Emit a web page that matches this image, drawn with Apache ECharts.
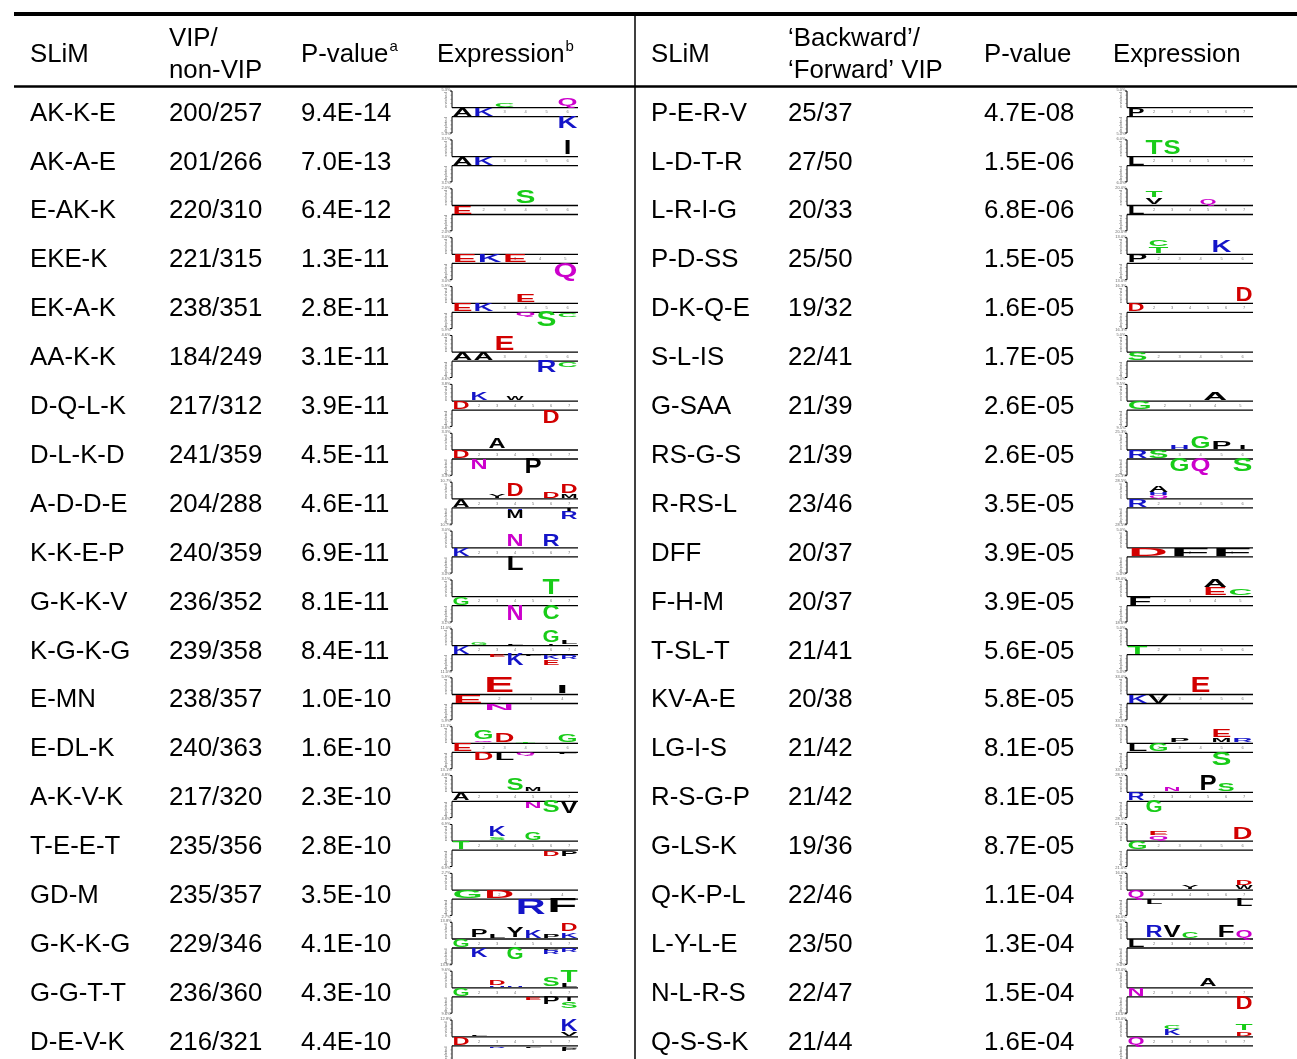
<!DOCTYPE html>
<html><head><meta charset="utf-8">
<script src="https://cdn.jsdelivr.net/npm/echarts@6/dist/echarts.min.js"></script>
<style>html,body{margin:0;padding:0;background:#fff}#c{width:1297px;height:1059px}</style>
</head><body><div id="c"></div>
<script>
// ---------- DATA ----------
const slimL = ['AK-K-E','AK-A-E','E-AK-K','EKE-K','EK-A-K','AA-K-K','D-Q-L-K','D-L-K-D','A-D-D-E','K-K-E-P','G-K-K-V','K-G-K-G','E-MN','E-DL-K','A-K-V-K','T-E-E-T','GD-M','G-K-K-G','G-G-T-T','D-E-V-K'];
const vipL = ['200/257','201/266','220/310','221/315','238/351','184/249','217/312','241/359','204/288','240/359','236/352','239/358','238/357','240/363','217/320','235/356','235/357','229/346','236/360','216/321'];
const pvalL = ['9.4E-14','7.0E-13','6.4E-12','1.3E-11','2.8E-11','3.1E-11','3.9E-11','4.5E-11','4.6E-11','6.9E-11','8.1E-11','8.4E-11','1.0E-10','1.6E-10','2.3E-10','2.8E-10','3.5E-10','4.1E-10','4.3E-10','4.4E-10'];
const slimR = ['P-E-R-V','L-D-T-R','L-R-I-G','P-D-SS','D-K-Q-E','S-L-IS','G-SAA','RS-G-S','R-RS-L','DFF','F-H-M','T-SL-T','KV-A-E','LG-I-S','R-S-G-P','G-LS-K','Q-K-P-L','L-Y-L-E','N-L-R-S','Q-S-S-K'];
const vipR = ['25/37','27/50','20/33','25/50','19/32','22/41','21/39','21/39','23/46','20/37','20/37','21/41','20/38','21/42','21/42','19/36','22/46','23/50','22/47','21/44'];
const pvalR = ['4.7E-08','1.5E-06','6.8E-06','1.5E-05','1.6E-05','1.7E-05','2.6E-05','2.6E-05','3.5E-05','3.9E-05','3.9E-05','5.6E-05','5.8E-05','8.1E-05','8.1E-05','8.7E-05','1.1E-04','1.3E-04','1.5E-04','1.6E-04'];
// number of logo positions
const nPosL = [6,6,6,5,6,6,7,7,7,7,7,7,4,6,7,7,4,7,7,7];
const nPosR = [7,7,7,6,7,6,5,6,6,3,5,6,6,6,7,6,7,7,7,7];
// logo letters: side(u=enriched/d=depleted) position letter height ; listed from the axis line outward
const logoL = ['u3C4 u6Q9 d6K13','u6I15','u4S14','d5Q15','u4E9 d4Q4 d5S16 d6C5','u3E15 d5R12 d6C6','u2K8 u4W5 d6D14','u3A11 d2N11 d5P16',
  'u3Y4 u4G1 u4D14 u6D7 u7M4 u7D10 d4H2 d4M9 d7I4 d7R8','u4N12 u6R12 d4L15','u6T16 d4N16 d6C15',
  'u2G3 u4L2 u6I2 u6G12 u7L5 d3E3 d4K12 d5L2 d6K5 d6E6 d7R5','u2E17 u4I9 d2N7',
  'u2L1 u2Q2 u2G10 u3D10 u4T2 u6G8 d2D9 d3L9 d4Q3 d6L2','u4S13 u5M5 d5N7 d6S12 d7V13','u3S3 u3K11 u5G9 d6D6 d7P6',
  'd3R17 d4F15','u2P9 u3L4 u4Y11 u5K8 u6P4 u7K6 u7D9 d2K10 d4G12 d6P2 d6R5 d7R5',
  'u3H2 u3D6 u4H2 u6S10 u7L4 u7T12 d5E3 d6P8 d7I5 d7S7','u2L2 u7V4 u7K12 d3R2 d5L2 d7L2 d7P3'];
const logoR = ['','u2T15 u3S15','u2V7 u2T7 u5Q6','u2T7 u2C7 u5K12','u7D15','','u4A8',
  'u3H4 u4G13 u5P8 u6I5 d3G14 d4Q14 d6S14','u2Q3 u2H3 u2A7','','u4E8 u4A8 u5C7','','u4E17',
  'u3P4 u5M5 u5E9 u6R4 d5S14','u3N4 u5P16 u6S9 d2G12','u2Q5 u2E5 u6D13','u4Y5 u7W4 u7D6 d2L6 d7L8',
  'u2R13 u3V12 u4C7 u6F12 u7Q8','u5A9 d7D14','u3K7 u3C4 u7D5 u7T7'];
const pctL = ['5.3%','3.1%','2.0%','3.0%','5.9%','4.6%','3.8%','3.3%','10.7%','3.0%','3.1%','11.0%','5.9%','13.1%','4.8%','6.9%','2.7%','13.8%','9.6%','12.8%'];
const pctR = ['5.0%','6.0%','20.0%','13.0%','16.3%','5.0%','9.5%','25.3%','28.5%','5.0%','18.0%','5.0%','33.0%','33.3%','28.5%','21.0%','16.0%','9.0%','13.0%','13.0%'];

// ---------- STYLE / LAYOUT ----------
const FONT = '"Liberation Sans", Arial, Helvetica, sans-serif';
const TXT = 25.8;
const TXT_DY = 1.5;
const COLX_L = [30, 169, 301];
const COLX_R = [651, 788, 984];
const LOGO_X = [[452, 578], [1127, 1253]];
const UP = -4.3, DN = 4.7, BR = 21;
const ROW_H = 48.9, GRID_TOP = 87.55;
const COLORS = {G:'#18cc18',S:'#18cc18',T:'#18cc18',C:'#18cc18',
  N:'#cc00cc',Q:'#cc00cc',K:'#1414c8',R:'#1414c8',H:'#1414c8',D:'#d20000',E:'#d20000'};
const colorOf = ch => COLORS[ch] || '#000';

const mctx = document.createElement('canvas').getContext('2d');
function tw(s, f){ mctx.font = f; return mctx.measureText(s).width; }
const GF = 'bold 100px ' + FONT;

function parseLogo(s){
  const out = [];
  const re = /([ud])(\d)([A-Z])([\d.]+)/g; let m;
  while ((m = re.exec(s))) out.push({side:m[1], pos:+m[2], ch:m[3], h:+m[4]});
  return out;
}

function letterEl(ch, cx, yTop, yBot, w){
  const h = yBot - yTop; if (h <= 0.2) return null;
  const gw = tw(ch, GF);
  const target = ch === 'I' ? gw * (0.95 * w / tw('D', GF)) : 0.95 * w;
  return {type:'text', x:cx, y:(yTop+yBot)/2, scaleX: target/gw, scaleY: h/72, silent:true,
    style:{text:ch, font:GF, fill:colorOf(ch), align:'center', verticalAlign:'middle'}};
}
function ln(x1,y1,x2,y2,wd,c){return {type:'line',silent:true,shape:{x1,y1,x2,y2},style:{stroke:c||'#000',lineWidth:wd||1.2}};}

function logoChildren(x0, x1, yc, n, motif, spec, pct){
  const w = (x1 - x0) / n;
  const ch = [];
  ch.push(ln(x0, yc+UP, x1, yc+UP, 1.3));
  ch.push(ln(x0, yc+DN, x1, yc+DN, 1.3));
  ch.push(ln(x0, yc-BR, x0, yc+UP, 1));
  ch.push(ln(x0, yc+DN, x0, yc+BR, 1));
  ch.push(ln(x0-2, yc-BR, x0, yc-BR, 1));
  ch.push(ln(x0-2, yc+BR, x0, yc+BR, 1));
  for (let k = 1; k < 4; k++){
    ch.push(ln(x0-1.5, yc+UP-k*(BR+UP)/4, x0, yc+UP-k*(BR+UP)/4, 0.6, '#555'));
    ch.push(ln(x0-1.5, yc+DN+k*(BR-DN)/4, x0, yc+DN+k*(BR-DN)/4, 0.6, '#555'));
  }
  const sm = {fill:'#666', fontSize:4, fontFamily:FONT, align:'center', verticalAlign:'middle'};
  ch.push({type:'text', x:x0-6, y:yc-BR-1, silent:true, style:Object.assign({text:pct}, sm)});
  ch.push({type:'text', x:x0-6, y:yc+BR+1, silent:true, style:Object.assign({text:pct}, sm)});
  ch.push({type:'text', x:x0-6, y:yc-12, rotation:Math.PI/2, silent:true, style:Object.assign({text:'enriched'}, sm)});
  ch.push({type:'text', x:x0-6, y:yc+13, rotation:Math.PI/2, silent:true, style:Object.assign({text:'depleted'}, sm)});
  for (let p = 2; p <= n; p++){
    ch.push({type:'text', x:x0+(p-0.5)*w, y:yc+0.3, silent:true, style:Object.assign({text:String(p)}, sm, {fill:'#777'})});
  }
  // fixed residues (first segment of the motif) inside the gap
  const fixed = motif.split('-')[0];
  for (let k = 0; k < fixed.length; k++){
    const e = letterEl(fixed[k], x0+(k+0.5)*w, yc+UP+0.5, yc+DN, w); if (e) ch.push(e);
  }
  const stackU = {}, stackD = {};
  parseLogo(spec).forEach(L => {
    const cx = x0 + (L.pos - 0.5) * w;
    if (L.side === 'u'){
      const b = stackU[L.pos] || 0; stackU[L.pos] = b + L.h;
      const e = letterEl(L.ch, cx, yc+UP-b-L.h, yc+UP-b-0.6, w); if (e) ch.push(e);
    } else {
      const b = stackD[L.pos] || 0; stackD[L.pos] = b + L.h;
      const e = letterEl(L.ch, cx, yc+DN+b+0.6, yc+DN+b+L.h, w); if (e) ch.push(e);
    }
  });
  return ch;
}

const rows = slimL.map((_, i) => i);
const logoData = [];
rows.forEach(i => { logoData.push([0, i]); logoData.push([1, i]); });

const chart = echarts.init(document.getElementById('c'), null, {renderer:'canvas'});
const tf = {fontSize:TXT, fontFamily:FONT, fill:'#000', align:'left', verticalAlign:'middle'};
const wPV = tw('P-value', TXT + 'px ' + FONT);
const wEx = tw('Expression', TXT + 'px ' + FONT);
const hdr = (t, x, y) => ({type:'text', x, y, silent:true, style:Object.assign({text:t}, tf)});
const sup = (t, x, y) => ({type:'text', x, y, silent:true, style:Object.assign({text:t}, tf, {fontSize:15})});
const gridH = 1059 - GRID_TOP;

chart.setOption({
  animation:false,
  backgroundColor:'#fff',
  grid:{left:0, right:0, top:GRID_TOP, bottom:0},
  xAxis:{type:'value', min:0, max:1297, show:false},
  yAxis:{type:'value', inverse:true, min:-0.5, max:-0.5 + gridH / ROW_H, show:false},
  graphic:[
    {type:'line', silent:true, shape:{x1:14,y1:14,x2:1297,y2:14}, style:{stroke:'#000', lineWidth:4}},
    {type:'line', silent:true, shape:{x1:14,y1:86.5,x2:1297,y2:86.5}, style:{stroke:'#000', lineWidth:2.5}},
    {type:'line', silent:true, shape:{x1:635,y1:16,x2:635,y2:1059}, style:{stroke:'#000', lineWidth:1.5}},
    hdr('SLiM', 30, 55), hdr('VIP/', 169, 39), hdr('non-VIP', 169, 71),
    hdr('P-value', 301, 55), sup('a', 301 + wPV + 1, 47),
    hdr('Expression', 437, 55), sup('b', 437 + wEx + 1, 47),
    hdr('SLiM', 651, 55), hdr('\u2018Backward\u2019/', 788, 39), hdr('\u2018Forward\u2019 VIP', 788, 71),
    hdr('P-value', 984, 55), hdr('Expression', 1113, 55)
  ],
  series:[
    {type:'custom', name:'table', coordinateSystem:'cartesian2d', data:rows.map(i => [0, i]),
     renderItem:(params, api) => {
       const i = api.value(1);
       const cells = [[COLX_L[0], slimL[i]], [COLX_L[1], vipL[i]], [COLX_L[2], pvalL[i]],
                      [COLX_R[0], slimR[i]], [COLX_R[1], vipR[i]], [COLX_R[2], pvalR[i]]];
       return {type:'group', children: cells.map(c => {
         const p = api.coord([c[0], i]);
         return {type:'text', x:p[0], y:p[1] + TXT_DY, silent:true, style:Object.assign({text:c[1]}, tf)};
       })};
     }},
    {type:'custom', name:'logos', coordinateSystem:'cartesian2d', data:logoData,
     renderItem:(params, api) => {
       const side = api.value(0), i = api.value(1);
       const xs = LOGO_X[side];
       const yc = api.coord([xs[0], i])[1];
       const motif = side ? slimR[i] : slimL[i];
       const spec = side ? logoR[i] : logoL[i];
       const pct = side ? pctR[i] : pctL[i];
       const n = side ? nPosR[i] : nPosL[i];
       return {type:'group', children: logoChildren(api.coord([xs[0], i])[0], api.coord([xs[1], i])[0], yc, n, motif, spec, pct)};
     }}
  ]
});
</script></body></html>
